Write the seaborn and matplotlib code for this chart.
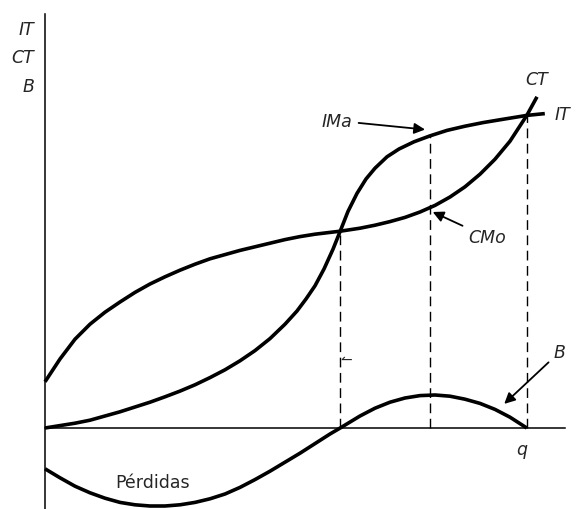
import numpy as np
import pandas as pd
import matplotlib
matplotlib.use("Agg")
import matplotlib.pyplot as plt
import seaborn as sns

# curve readings (q = quantity, v = value)
it_q = [0.00, 0.25, 0.50, 0.75, 1.00, 1.25, 1.50, 1.75, 2.00, 2.25, 2.50, 2.75,
        3.00, 3.25, 3.50, 3.75, 4.00, 4.20, 4.35, 4.50, 4.65, 4.80, 4.92, 5.05,
        5.20, 5.35, 5.50, 5.70, 5.90, 6.15, 6.42, 6.70, 7.00, 7.30, 7.60, 8.03, 8.33]
it_v = [0.00, 0.04, 0.08, 0.13, 0.20, 0.27, 0.35, 0.43, 0.52, 0.615, 0.72, 0.84,
        0.97, 1.12, 1.29, 1.49, 1.73, 1.95, 2.15, 2.37, 2.65, 2.98, 3.28, 3.61,
        3.91, 4.15, 4.33, 4.52, 4.65, 4.77, 4.87, 4.96, 5.03, 5.09, 5.14, 5.21, 5.24]

ct_q = [0.00, 0.25, 0.50, 0.75, 1.00, 1.25, 1.50, 1.75, 2.00, 2.25, 2.50, 2.75,
        3.00, 3.25, 3.50, 3.75, 4.00, 4.25, 4.50, 4.75, 4.92, 5.25, 5.50, 5.75,
        6.00, 6.25, 6.50, 6.75, 7.00, 7.25, 7.50, 7.75, 8.03, 8.20]
ct_v = [0.77, 1.15, 1.48, 1.73, 1.93, 2.10, 2.26, 2.40, 2.52, 2.63, 2.73, 2.82,
        2.89, 2.96, 3.02, 3.08, 3.14, 3.19, 3.23, 3.26, 3.28, 3.33, 3.38, 3.44,
        3.51, 3.60, 3.71, 3.85, 4.02, 4.23, 4.48, 4.78, 5.21, 5.52]

b_q = [0.00, 0.25, 0.50, 0.75, 1.00, 1.25, 1.50, 1.75, 2.00, 2.25, 2.50, 2.75,
       3.00, 3.25, 3.50, 3.75, 4.00, 4.25, 4.50, 4.75, 4.92, 5.25, 5.50, 5.75,
       6.00, 6.25, 6.50, 6.75, 7.00, 7.25, 7.50, 7.75, 8.03]
b_v = [-0.68, -0.83, -0.97, -1.08, -1.17, -1.24, -1.28, -1.30, -1.30, -1.28, -1.24, -1.18,
       -1.10, -0.99, -0.86, -0.72, -0.57, -0.42, -0.26, -0.10, 0.00, 0.20, 0.33, 0.43,
       0.50, 0.54, 0.55, 0.53, 0.48, 0.41, 0.31, 0.18, 0.00]

# dashed guides: break-even, max profit, second break-even
guide_q = [4.92, 6.42, 8.03]
guide_top = [3.28, 4.87, 5.21]

sns.set_style("white")
plt.rcParams['font.family'] = ['DejaVu Sans']

fig = plt.figure(figsize=(5.85, 5.1), dpi=100)
ax = fig.add_axes([0, 0, 1, 1])

it = pd.DataFrame({"q": it_q, "v": it_v})
ct = pd.DataFrame({"q": ct_q, "v": ct_v})
b = pd.DataFrame({"q": b_q, "v": b_v})
for d in (it, ct, b):
    sns.lineplot(data=d, x="q", y="v", ax=ax, color="black", linewidth=2.6,
                 sort=False, solid_joinstyle="round", solid_capstyle="butt")

ax.vlines(guide_q, 0, guide_top, colors="black", linestyles=(0, (7, 4)), linewidth=1.0)

# axes drawn as spines through the origin
ax.set_xlim(-0.75, 9.0)
ax.set_ylim(-1.35, 7.15)
for s in ["top", "right"]:
    ax.spines[s].set_visible(False)
ax.spines["left"].set_position(("data", 0))
ax.spines["bottom"].set_position(("data", 0))
ax.spines["left"].set_bounds(-1.35, 6.9)
ax.spines["bottom"].set_bounds(0, 8.67)
for s in ["left", "bottom"]:
    ax.spines[s].set_color("black")
    ax.spines[s].set_linewidth(1.1)
ax.set_xticks([])
ax.set_yticks([])
ax.set_xlabel("")
ax.set_ylabel("")
ax.set_facecolor("white")

fs = 12.5
ax.text(-0.18, 6.65, "IT", style="italic", fontsize=fs, ha="right", va="center")
ax.text(-0.18, 6.18, "CT", style="italic", fontsize=fs, ha="right", va="center")
ax.text(-0.18, 5.70, "B", style="italic", fontsize=fs, ha="right", va="center")
ax.text(8.2, 5.82, "CT", style="italic", fontsize=fs, ha="center", va="center")
ax.text(8.5, 5.23, "IT", style="italic", fontsize=fs, ha="left", va="center")
ax.text(7.95, -0.35, "q", style="italic", fontsize=fs, ha="center", va="center")
ax.text(1.8, -0.9, "Pérdidas", fontsize=fs, ha="center", va="center")

arrow = dict(arrowstyle="-|>", color="black", lw=1.3, mutation_scale=16)
ax.annotate("IMa", xy=(6.38, 4.97), xytext=(4.87, 5.12), style="italic", fontsize=fs,
            ha="center", va="center", arrowprops=arrow)
ax.annotate("CMo", xy=(6.42, 3.62), xytext=(7.37, 3.18), style="italic", fontsize=fs,
            ha="center", va="center", arrowprops=arrow)
ax.annotate("B", xy=(7.62, 0.37), xytext=(8.58, 1.27), style="italic", fontsize=fs,
            ha="center", va="center", arrowprops=arrow)
ax.text(5.02, 1.15, "↼", fontsize=10, ha="center", va="center")

fig.savefig("out.png", dpi=100, facecolor="white")
